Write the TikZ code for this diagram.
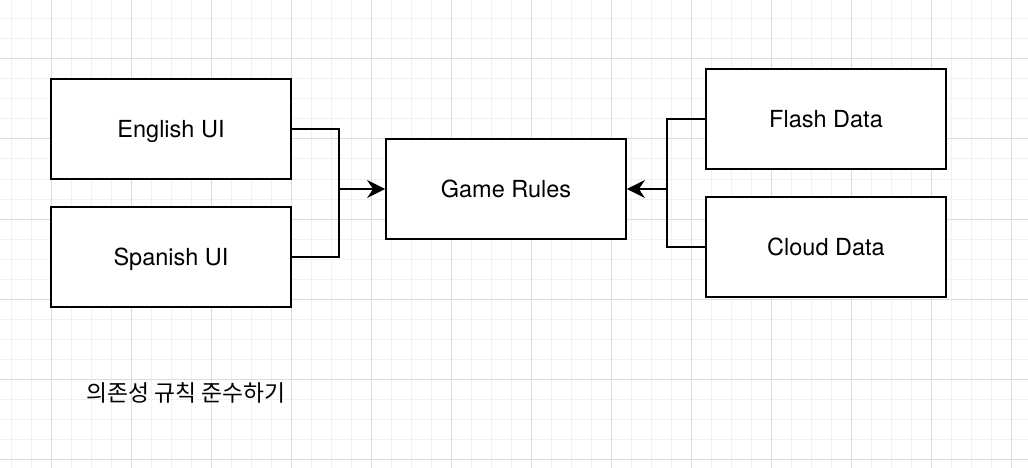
\documentclass[tikz,border=0pt]{standalone}
\usepackage{fontspec}
\setmainfont{TeX Gyre Heros}
\newfontfamily\cjk{Noto Sans CJK KR}
\usetikzlibrary{arrows.meta}

\definecolor{gridminor}{HTML}{F1F1F1}
\definecolor{gridmajor}{HTML}{DCDCDC}

\tikzset{
	module/.style={draw, fill=white, line width=1.8pt, minimum width=240pt, minimum height=100pt, inner sep=0pt, text height=17pt, text depth=0pt, font=\fontsize{23.5}{27}\selectfont},
	wire/.style={line width=1.8pt},
	dep/.style={wire, -{Stealth[length=18pt, width=18pt, inset=6pt]}}
}

\begin{document}
\begin{tikzpicture}[x=1pt, y=-1pt]
		% Fix the canvas
		\useasboundingbox[fill=white] (0,0) rectangle (1028,468);
		
		% Draw the background grid
		\foreach \x in {11,31,...,1027} {
			\draw[gridminor, line width=1pt] (\x,0) -- (\x,468);
		}
		\foreach \y in {19,39,...,467} {
			\draw[gridminor, line width=1pt] (0,\y) -- (1028,\y);
		}
		\foreach \x in {51,131,...,1027} {
			\draw[gridmajor, line width=1pt] (\x,0) -- (\x,468);
		}
		\foreach \y in {59,139,...,467} {
			\draw[gridmajor, line width=1pt] (0,\y) -- (1028,\y);
		}
		
		% Place the modules
		\node[module] (english) at (171,129) {English UI};
		\node[module] (spanish) at (171,257) {Spanish UI};
		\node[module] (rules) at (506,189) {Game Rules};
		\node[module] (flash) at (826,119) {Flash Data};
		\node[module] (cloud) at (826,247) {Cloud Data};
		
		% Join the dependencies
		\coordinate (leftjoin) at (339,189);
		\coordinate (rightjoin) at (667,189);
		\draw[wire] (english.east) -| (leftjoin);
		\draw[wire] (spanish.east) -| (leftjoin);
		\draw[dep] (leftjoin) -- (rules.west);
		\draw[wire] (flash.west) -| (rightjoin);
		\draw[wire] (cloud.west) -| (rightjoin);
		\draw[dep] (rightjoin) -- (rules.east);
		
		% Add the caption
		\node[font=\cjk\fontsize{22.8}{27}\selectfont] (caption) at (186,393) {의존성 규칙 준수하기};
	\end{tikzpicture}
\end{document}
